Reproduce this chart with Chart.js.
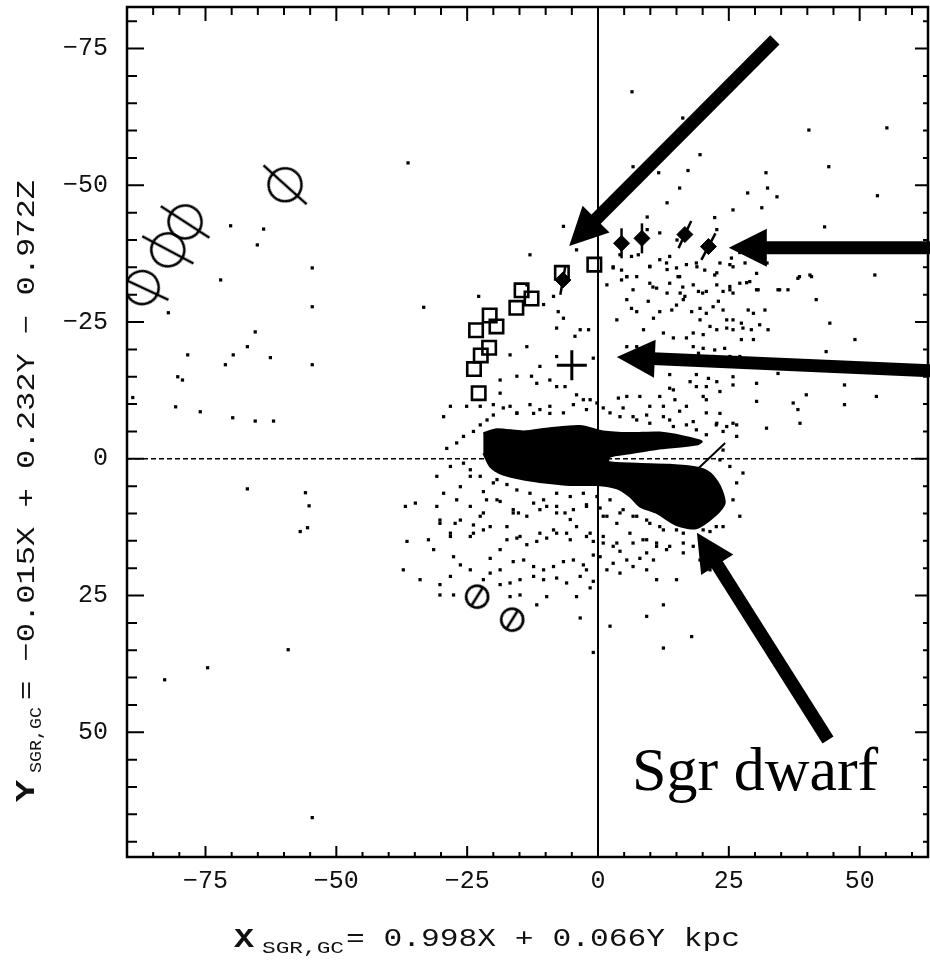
<!DOCTYPE html>
<html lang="en">
<head>
<meta charset="UTF-8" />
<title>Sgr dwarf debris, X-Y plane</title>
<script src="https://cdn.jsdelivr.net/npm/chart.js"></script>
<style>
  html, body { margin: 0; padding: 0; background: #fff; }
</style>
</head>
<body>
<canvas id="sgrChart" width="930" height="966"></canvas>
<script>
// axis ranges and labelled ticks (kpc)
const xRange = [-90, 63.06];
const yRange = [-82.6, 72.8];
const xTicks = [-75, -50, -25, 0, 25, 50];
const yTicks = [-75, -50, -25, 0, 25, 50];
const minorStep = 5;

// open squares
const squarePts = [[-0.7,-35.5],[-6.9,-34.0],[-12.7,-29.3],[-14.6,-30.8],[-15.6,-27.6],[-20.7,-26.2],
  [-19.4,-24.2],[-23.3,-23.5],[-20.8,-20.3],[-22.4,-18.9],[-23.7,-16.4],[-22.8,-12.0]];
// filled points with error bars
const filledPts = [[4.5,-39.4],[8.4,-40.3],[16.6,-41.0],[21.1,-38.8],[-6.7,-32.7]];
const errAngles = [90, 90, 115, 118, 100];
// Sgr centre cross
const crossPts = [[-5.0,-17.1]];
// big slashed circles (upper left) and small ones (below)
const bigCircles = [[-59.8,-50.1],[-78.9,-43.3],[-82.2,-38.2],[-87.1,-31.3]];
const bigSlash = [42, 33, 28, 25];
const smallCircles = [[-23.1,25.2],[-16.4,29.4]];
// short tail segment
const tailSeg = [[24.3,-2.9],[18.9,2.0]];

// outline of the saturated disc + Sgr core region
const densePoly = [[-21.9,-4.7],[-19.3,-5.4],[-14.2,-5.0],[-9.2,-5.6],[-3.4,-6.0],[1.0,-5.0],[6.1,-4.7],
  [11.8,-4.8],[16.3,-4.1],[19.8,-3.2],[18.8,-2.6],[11.2,-1.8],[6.1,-1.0],[2.3,-0.4],[2.0,0.6],
  [7.4,0.9],[13.7,1.1],[18.8,1.6],[21.4,2.6],[23.3,5.0],[24.2,8.1],[22.6,10.2],[18.8,12.7],
  [15.0,12.1],[11.2,9.9],[8.0,8.7],[6.1,6.9],[3.6,5.4],[-0.3,4.8],[-5.3,4.8],[-9.8,4.4],
  [-14.2,3.8],[-18.1,2.9],[-20.6,1.4],[-21.9,-1.0]];

// diffuse cloud of particles
const cloudDots = [
  [4.2,-37.3],[6.4,-37.0],[7.7,-37.3],[9.9,-35.2],[11.8,-36.4],[13.1,-35.8],[13.7,-37.0],[15.0,-34.9],
  [15.3,-33.3],[16.9,-35.5],[18.8,-35.8],[20.4,-34.5],[22.3,-33.6],[23.3,-35.8],[25.2,-35.5],[25.5,-36.7],
  [28.1,-35.8],[30.3,-33.9],[2.9,-34.9],[4.5,-32.7],[5.5,-33.3],[7.4,-33.3],[9.9,-32.1],[11.2,-31.2],
  [13.7,-32.1],[15.7,-30.3],[16.6,-29.7],[18.2,-31.8],[19.2,-30.6],[20.7,-30.6],[22.7,-31.8],[23.9,-30.6],
  [25.2,-31.5],[25.8,-30.3],[27.1,-32.1],[29.0,-32.4],[30.6,-30.9],[34.4,-30.9],[36.3,-30.9],[38.2,-33.0],
  [40.8,-33.3],[41.7,-29.1],[44.3,-24.8],[49.1,-21.8],[43.6,-19.6],[52.9,-33.6],[53.2,-11.4],[47.1,-13.5],
  [47.1,-9.9],[39.8,-11.7],[38.2,-9.0],[38.6,-6.5],[32.2,-5.6],[37.3,-10.2],[30.3,-13.8],[25.8,-13.5],
  [23.3,-12.3],[20.7,-10.8],[21.1,-14.7],[18.8,-15.4],[17.6,-14.1],[20.1,-11.4],[16.9,-9.6],[14.4,-12.6],
  [14.7,-10.8],[13.7,-15.4],[11.8,-11.4],[9.9,-9.6],[8.0,-11.4],[5.5,-11.4],[3.9,-11.1],[1.0,-9.3],
  [4.2,-7.7],[7.4,-7.1],[9.9,-6.5],[12.5,-7.7],[14.4,-5.9],[16.9,-6.2],[18.8,-5.3],[20.7,-4.4],
  [22.7,-6.5],[24.6,-5.9],[26.5,-6.2],[23.3,-8.3],[5.5,-29.1],[6.4,-27.5],[7.4,-26.9],[9.6,-28.8],
  [10.6,-25.7],[11.8,-26.9],[14.1,-27.2],[15.0,-28.1],[16.3,-29.1],[17.9,-26.9],[19.5,-27.5],[20.7,-26.6],
  [22.0,-27.8],[23.0,-28.8],[23.9,-27.2],[24.6,-25.4],[25.8,-25.4],[27.4,-24.8],[28.7,-27.2],[29.7,-26.6],
  [30.9,-24.5],[32.5,-23.6],[31.9,-27.2],[29.3,-23.6],[27.7,-23.9],[25.8,-23.6],[24.6,-23.9],[22.7,-23.6],
  [21.4,-24.2],[20.1,-22.7],[19.5,-25.4],[18.2,-23.0],[16.9,-22.1],[14.4,-22.1],[12.5,-23.0],[8.7,-23.6],
  [7.4,-20.5],[5.5,-20.5],[3.6,-25.4],[1.7,-31.8],[4.5,-34.5],[29.7,-21.8],[27.4,-21.8],[24.2,-20.2],
  [22.3,-19.9],[20.1,-20.2],[18.2,-20.5],[19.2,-19.3],[22.0,-18.7],[25.2,-18.7],[27.1,-18.7],[34.4,-15.6],
  [13.7,-12.9],[18.8,-13.2],[20.7,-13.2],[22.7,-14.1],[25.8,-15.0],[30.3,-10.5],
  [-6.6,-25.7],[-4.4,-22.4],[-3.4,-23.6],[-1.8,-23.6],[-0.9,-18.4],[-4.1,-11.7],[-2.8,-10.8],[-1.5,-10.8],
  [-6.3,-13.2],
  [-24.4,3.2],[-26.3,5.1],[-21.9,6.0],[-20.0,4.4],[-21.3,7.5],[-18.7,7.8],[-15.2,9.9],[-16.2,9.9],
  [-12.3,8.1],[-9.8,8.7],[-7.9,8.7],[-6.3,9.9],[-4.7,9.3],[-2.2,8.4],[0.4,9.0],[1.7,10.5],[4.2,9.9],
  [6.7,10.5],[9.3,11.2],[11.8,12.4],[15.0,13.0],[17.6,11.8],[20.1,13.0],[22.6,12.4],[23.3,7.5],[22.0,4.4],
  [-36.8,8.7],[-34.9,8.1],[-30.8,8.7],[-30.2,11.2],[-27.3,11.8],[-23.8,12.1],[-22.5,10.5],[-21.9,13.0],
  [-24.4,14.2],[-28.2,13.6],[-32.4,14.8],[-36.5,15.1],[-31.4,16.6],[-27.6,17.9],[-26.3,19.4],[-24.4,20.3],
  [-28.2,21.5],[-30.2,23.0],[-27.6,24.9],[-34.0,22.1],[-37.2,20.3],[-20.6,18.2],[-18.7,16.6],[-17.4,14.8],
  [-15.5,14.5],[-13.6,15.7],[-11.7,15.1],[-9.8,14.5],[-8.5,13.0],[-6.0,13.6],[-4.1,12.4],[-1.5,13.6],
  [-0.9,15.1],[1.0,15.4],[2.9,16.0],[4.2,16.9],[6.7,15.4],[9.3,14.8],[11.2,15.4],[13.1,16.6],[16.3,17.2],
  [18.2,16.0],[21.4,20.3],[19.5,18.5],[10.6,18.5],[8.0,18.2],[5.5,18.5],[2.9,19.1],[0.4,17.9],[-0.9,17.6],
  [-2.8,19.4],[-4.7,18.5],[-6.6,18.8],[-8.5,19.7],[-10.4,20.3],[-12.3,19.7],[-14.2,18.5],[-16.2,18.8],
  [-18.7,20.3],[-20.6,20.9],[-21.9,22.1],[-18.7,23.0],[-16.8,22.7],[-14.9,22.1],[-12.3,21.5],[-10.4,22.1],
  [-7.9,21.8],[-6.0,22.7],[-3.4,21.5],[-2.2,20.3],[-0.9,22.4],[1.7,20.3],[4.2,20.9],[6.7,19.7],[9.3,20.3],
  [11.2,22.1],[15.0,22.1],[-1.5,23.6],[-4.1,25.2],[-9.8,25.2],[-11.7,26.7],[-14.9,24.9],[-16.8,25.2],
  [-3.4,29.1],[2.3,30.6],[9.3,28.8],[12.5,26.7],[17.9,32.5],[12.5,34.6],[-0.9,35.4],[-30.2,24.9],
  [-28.9,-1.9],[-27.0,-2.9],[-25.7,-4.1],[-23.8,-5.0],[-22.5,-6.2],[-21.2,-7.1],[-20.0,-8.0],[-18.1,-9.3],
  [-15.5,-8.4],[-13.0,-9.9],[-11.1,-9.0],[-9.2,-9.6],[-6.6,-8.4],[-4.7,-9.9],[-2.2,-9.0],[-0.2,-10.2],
  [2.3,-8.4],[4.8,-9.3],[6.7,-7.7],[9.3,-8.0],[12.5,-9.6],[13.7,-7.1],[15.6,-8.7],[18.2,-6.8],[20.7,-8.4],
  [22.6,-6.2],[23.9,-5.0],[25.8,-6.5],[26.5,-4.1],[23.9,-1.6],[23.3,0.2],[25.2,1.4],[27.7,2.6],[26.5,4.4],
  [25.8,7.5],[27.1,10.5],[23.9,12.4],[21.4,13.3],[16.3,13.6],[12.5,13.0],[9.9,11.8],[7.4,10.5],[4.8,9.3],
  [2.3,7.5],[-0.2,6.9],[-2.8,6.3],[-5.3,6.9],[-7.9,6.3],[-10.4,7.5],[-13.0,6.3],[-15.5,5.7],[-17.4,4.7],
  [-19.3,3.8],[-22.5,3.2],[-24.4,2.0],[-25.7,0.8],[-28.2,1.4],[-30.8,3.2],[-29.5,6.3],[-27.0,7.5],
  [-24.4,8.7],[-21.9,9.9],[-19.3,7.5],[-16.2,9.3],[-13.6,10.5],[-11.1,9.3],[-7.9,9.9],[-5.3,11.1],
  [-2.2,8.7],[1.0,10.5],[3.6,11.8],[6.1,13.6],[8.6,14.8],[11.2,16.0],[13.7,16.0],[16.3,15.4],[9.3,17.2],
  [3.6,15.4],[1.0,14.2],[-2.2,14.2],[-5.3,14.8],[-7.9,13.6],[-11.1,13.6],[-14.9,14.2],[-17.4,12.4],
  [-20.6,12.4],[-23.8,13.6],[-28.2,14.2],[-30.2,11.8],[-26.3,11.2],
  [-13.0,-37.3],[-22.8,-29.7],[-33.3,-27.7],[-13.6,-31.8],[-10.4,-28.2],[-8.5,-29.7],[-7.6,-26.9],
  [-7.9,-23.9],[-7.9,-18.7],[-11.1,-16.9],[-13.6,-20.5],[-16.8,-19.0],[-15.5,-15.1],[-12.7,-15.1],
  [-11.7,-13.8],[-9.2,-14.4],[-7.9,-13.2],[-18.7,-14.4],[-20.0,-9.9],[-18.7,-12.0],[-29.5,-7.7],
  [-28.2,-9.6],[-25.1,-9.6],[-22.5,-9.6],[-16.8,-9.6],[-15.5,-8.3],[-12.3,-8.3],[-9.2,-8.3],
  [-6.6,-42.5],[-4.1,-38.2],
  [2.9,-35.1],[5.5,-33.3],[9.9,-35.1],[13.2,-34.6],[15.6,-33.3],[18.9,-35.1],[22.7,-34.0],[25.8,-35.1],
  [28.4,-32.2],[25.2,-30.9],[30.3,-30.9],[34.7,-30.9],[38.5,-33.3],[40.5,-33.6],[10.5,-31.4],[6.7,-30.9],
  [16.2,-31.4],[20.0,-30.3],[13.2,-30.3],[32.3,-35.8],[27.1,-37.7],[11.8,-41.3],[15.1,-40.0],[22.7,-41.9],
  [9.4,-41.9]
];

// sparse particles far from the centre
const fieldDots = [
  [6.5,-67.1],[16.2,-62.3],[19.5,-55.6],[6.7,-53.4],[11.6,-52.3],[17.2,-52.7],[32.1,-52.3],[40.3,-60.1],
  [55.2,-60.5],[44.1,-53.4],[15.6,-49.5],[32.4,-49.5],[34.2,-47.9],[28.6,-48.6],[53.4,-48.1],[43.3,-42.4],
  [25.8,-45.5],[31.3,-45.9],[22.3,-44.1],[13.2,-46.8],[9.4,-44.2],
  [-70.2,-42.6],[-63.9,-42.0],[-65.1,-39.1],[-72.1,-32.7],[-82.1,-26.7],[-54.6,-34.9],[-54.6,-27.8],
  [-65.5,-23.2],[-67.0,-20.5],[-69.7,-19.0],[-71.2,-17.2],[-62.6,-18.5],[-78.4,-19.0],[-80.3,-15.0],
  [-79.4,-14.4],[-88.9,-11.2],[-80.7,-9.5],[-76.0,-8.6],[-69.8,-7.5],[-65.5,-6.9],[-62.0,-6.9],
  [-54.6,-17.2],[-67.0,5.5],[-55.9,6.2],[-55.2,8.6],[-55.5,12.6],[-56.9,13.3],[-59.2,34.9],[-74.6,38.2],
  [-82.8,40.4],[-54.6,65.6],[-36.3,-54.1]
];

// annotation arrows (tail -> tip, kpc) and label
const arrowTails = [[33.8,-76.6],[63.8,-38.6],[63.8,-16.1],[43.95,51.4]];
const arrowTips = [[-5.5,-38.9],[25.0,-38.6],[3.6,-18.6],[18.9,13.5]];
const dwarfLabel = { text: 'Sgr dwarf', at: [6.5, 60.5] };

const toXY = arr => arr.map(p => ({ x: p[0], y: p[1] }));
const minus = v => (v < 0 ? '\u2212' + Math.abs(v) : String(v));

// circle marker with a slash through it, drawn once on a small canvas
function slashedCircle(r, len, lw) {
  const size = Math.ceil(2 * Math.max(r, len) + 2 * lw);
  const c = document.createElement('canvas');
  c.width = size; c.height = size;
  const g = c.getContext('2d');
  g.strokeStyle = '#000';
  g.lineWidth = lw;
  g.beginPath(); g.arc(size / 2, size / 2, r, 0, Math.PI * 2); g.stroke();
  g.beginPath(); g.moveTo(size / 2 - len, size / 2); g.lineTo(size / 2 + len, size / 2); g.stroke();
  return c;
}
const bigMark = slashedCircle(16.5, 29, 2.6);
const smallMark = slashedCircle(11, 12, 2.6);

// frame, inward tick marks, axis titles, arrows and label
const decorPlugin = {
  id: 'decor',
  afterDatasetsDraw(chart) {
    const { ctx, chartArea: a, scales: { x, y } } = chart;
    ctx.save();
    ctx.strokeStyle = '#000';
    ctx.fillStyle = '#000';

    ctx.lineWidth = 2.5;
    ctx.strokeRect(a.left, a.top, a.right - a.left, a.bottom - a.top);

    ctx.lineWidth = 2;
    ctx.beginPath();
    for (let v = Math.ceil(xRange[0] / minorStep) * minorStep; v <= xRange[1]; v += minorStep) {
      const px = x.getPixelForValue(v);
      const major = v % 25 === 0;
      ctx.moveTo(px, a.bottom); ctx.lineTo(px, a.bottom - (major ? 11 : 5));
      ctx.moveTo(px, a.top); ctx.lineTo(px, a.top + (major ? 14 : 8));
    }
    for (let v = Math.ceil(yRange[0] / minorStep) * minorStep; v <= yRange[1]; v += minorStep) {
      const py = y.getPixelForValue(v);
      const major = v % 25 === 0;
      ctx.moveTo(a.left, py); ctx.lineTo(a.left + (major ? 17 : 10), py);
      ctx.moveTo(a.right, py); ctx.lineTo(a.right - (major ? 13 : 5), py);
    }
    ctx.stroke();

    // arrows
    arrowTails.forEach((t, i) => {
      const x1 = x.getPixelForValue(t[0]), y1 = y.getPixelForValue(t[1]);
      const x2 = x.getPixelForValue(arrowTips[i][0]), y2 = y.getPixelForValue(arrowTips[i][1]);
      const ang = Math.atan2(y2 - y1, x2 - x1);
      const headLen = 38, headW = 19;
      const bx = x2 - headLen * Math.cos(ang), by = y2 - headLen * Math.sin(ang);
      ctx.lineWidth = 13;
      ctx.lineCap = 'butt';
      ctx.beginPath(); ctx.moveTo(x1, y1); ctx.lineTo(bx + 2 * Math.cos(ang), by + 2 * Math.sin(ang)); ctx.stroke();
      ctx.beginPath();
      ctx.moveTo(x2, y2);
      ctx.lineTo(bx + headW * Math.sin(ang), by - headW * Math.cos(ang));
      ctx.lineTo(bx - headW * Math.sin(ang), by + headW * Math.cos(ang));
      ctx.closePath();
      ctx.fill();
    });

    ctx.font = '62px "Liberation Serif", "Times New Roman", serif';
    ctx.textBaseline = 'alphabetic';
    ctx.textAlign = 'left';
    ctx.fillText(dwarfLabel.text, x.getPixelForValue(dwarfLabel.at[0]), y.getPixelForValue(dwarfLabel.at[1]));

    // stretched mono text helper
    const wide = (txt, px, py, font, targetW) => {
      ctx.font = font;
      const w = ctx.measureText(txt).width;
      ctx.save();
      ctx.translate(px, py);
      ctx.scale(targetW / w, 1);
      ctx.fillText(txt, 0, 0);
      ctx.restore();
    };
    ctx.fillStyle = '#111';
    // x title
    wide('X', 234, 947, 'bold 27px "Liberation Mono", monospace', 20);
    wide('SGR,GC', 262, 953, '16px "Liberation Mono", monospace', 82);
    wide('= 0.998X + 0.066Y kpc', 346, 946, '25px "Liberation Mono", monospace', 394);
    // y title, rotated
    ctx.save();
    ctx.translate(34, 802);
    ctx.rotate(-Math.PI / 2);
    wide('Y', 0, 0, 'bold 27px "Liberation Mono", monospace', 22);
    wide('SGR,GC', 29, 7, '16px "Liberation Mono", monospace', 66);
    wide('= \u22120.015X + 0.232Y \u2212 0.972Z', 102, 0, '25px "Liberation Mono", monospace', 520);
    ctx.restore();

    ctx.restore();
  }
};

// keep the plot frame where the reference has it
const pinBox = (s, key, val) => {
  s[key] = val;
  s.paddingLeft = 0; s.paddingRight = 0; s.paddingTop = 0; s.paddingBottom = 0;
};

const dotStyle = { pointStyle: 'rect', pointRadius: 2.3, borderWidth: 0, backgroundColor: '#000', showLine: false };

new Chart(document.getElementById('sgrChart'), {
  type: 'scatter',
  data: {
    datasets: [
      { label: 'big circles', data: toXY(bigCircles), pointStyle: bigMark, rotation: bigSlash, pointRadius: 20 },
      { label: 'small circles', data: toXY(smallCircles), pointStyle: smallMark, rotation: -58, pointRadius: 14 },
      { label: 'squares', data: toXY(squarePts), pointStyle: 'rect', pointRadius: 9.5, borderWidth: 2.6,
        borderColor: '#000', backgroundColor: 'rgba(0,0,0,0)' },
      { label: 'filled', data: toXY(filledPts), pointStyle: 'rectRot', pointRadius: 8, borderWidth: 1,
        borderColor: '#000', backgroundColor: '#000' },
      { label: 'error bars', data: toXY(filledPts), pointStyle: 'line', pointRadius: 15, borderWidth: 2.5,
        borderColor: '#000', rotation: errAngles },
      { label: 'centre', data: toXY(crossPts), pointStyle: 'cross', pointRadius: 15, borderWidth: 3, borderColor: '#000' },
      { label: 'tail', data: toXY(tailSeg), showLine: true, borderColor: '#000', borderWidth: 2, pointRadius: 0 },
      { label: 'cloud', data: toXY(cloudDots), ...dotStyle },
      { label: 'field', data: toXY(fieldDots), ...dotStyle },
      { label: 'dense', data: toXY(densePoly), showLine: true, fill: 'shape', tension: 0.25,
        borderColor: '#000', borderWidth: 2, backgroundColor: '#000', pointRadius: 0 },
      { label: 'x = 0', data: [{ x: 0, y: yRange[0] }, { x: 0, y: yRange[1] }], showLine: true,
        borderColor: '#000', borderWidth: 2, pointRadius: 0 },
      { label: 'y = 0', data: [{ x: xRange[0], y: 0 }, { x: xRange[1], y: 0 }], showLine: true,
        borderColor: '#000', borderWidth: 1.5, borderDash: [5, 3], pointRadius: 0 }
    ]
  },
  options: {
    responsive: false,
    animation: false,
    events: [],
    layout: { autoPadding: false, padding: { left: 0, top: 7, right: 2, bottom: 0 } },
    plugins: { legend: { display: false }, tooltip: { enabled: false } },
    scales: {
      x: {
        type: 'linear', min: xRange[0], max: xRange[1],
        grid: { display: false, drawTicks: false }, border: { display: false },
        afterBuildTicks: s => { s.ticks = xTicks.map(v => ({ value: v })); },
        afterFit: s => pinBox(s, 'height', 109),
        ticks: { padding: 9, color: '#111', maxRotation: 0, autoSkip: false,
          font: { family: '"Liberation Mono", monospace', size: 25 }, callback: v => minus(v) }
      },
      y: {
        type: 'linear', reverse: true, min: yRange[0], max: yRange[1],
        grid: { display: false, drawTicks: false }, border: { display: false },
        afterBuildTicks: s => { s.ticks = yTicks.map(v => ({ value: v })); },
        afterFit: s => pinBox(s, 'width', 127),
        ticks: { padding: 19, color: '#111', autoSkip: false,
          font: { family: '"Liberation Mono", monospace', size: 25 }, callback: v => minus(v) }
      }
    }
  },
  plugins: [decorPlugin]
});
</script>
</body>
</html>
